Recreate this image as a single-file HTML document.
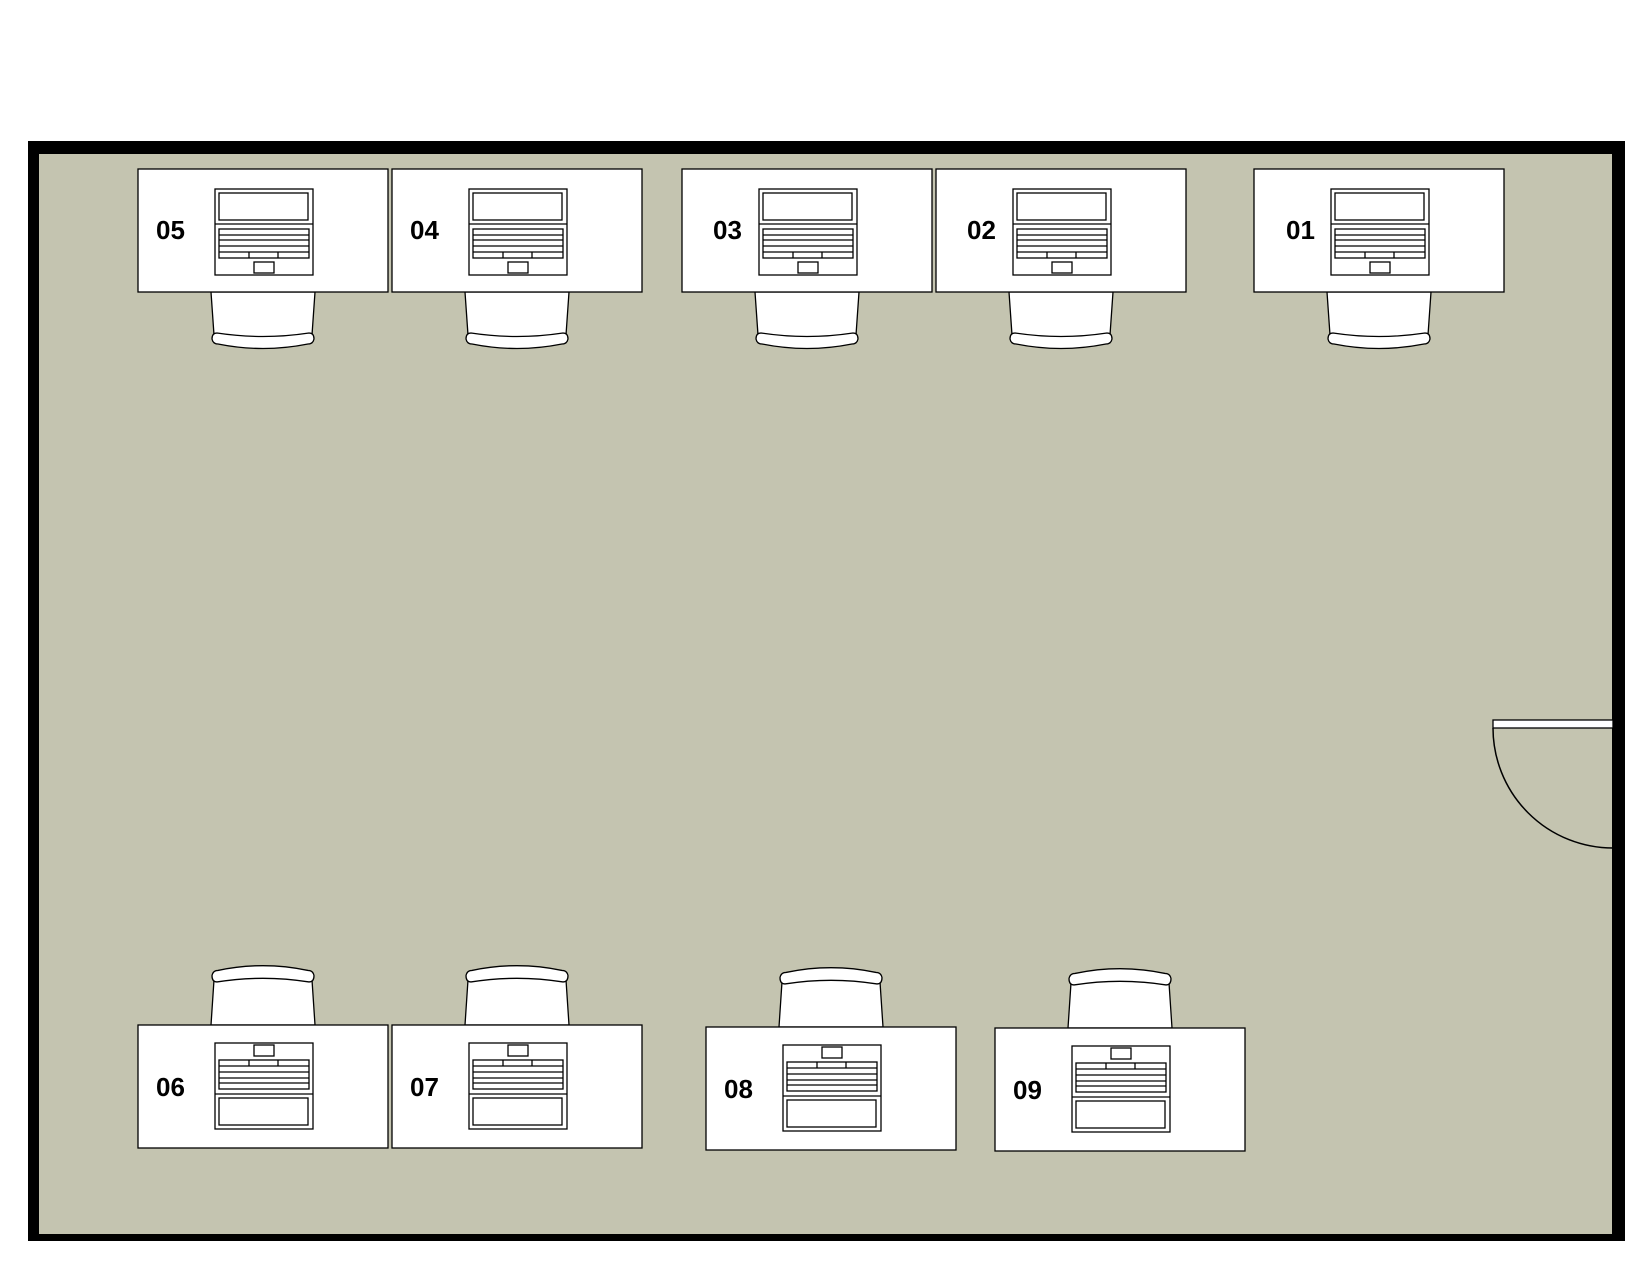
<!DOCTYPE html>
<html><head><meta charset="utf-8"><style>html,body{margin:0;padding:0;background:#fff}svg{display:block}</style></head>
<body>
<svg width="1650" height="1275" viewBox="0 0 1650 1275" xmlns="http://www.w3.org/2000/svg">
<defs>
<g id="chair" fill="#fff" stroke="#000" stroke-width="1.3">
<path d="M73 0 L76 43 Q125 49 174 43 L177 0 Z"/>
<path d="M79 41 Q125 48 171 41 Q176 41 176 47 Q175 52 170 52 Q125 61 80 52 Q75 52 74 47 Q74 41 79 41 Z"/>
</g>
<g id="laptop" fill="#fff" stroke="#000" stroke-width="1.3">
<rect x="0" y="0" width="98" height="86"/>
<rect x="4" y="4" width="89" height="27"/>
<line x1="0" y1="35" x2="98" y2="35"/>
<rect x="4" y="40" width="90" height="29"/>
<line x1="4" y1="46" x2="94" y2="46"/>
<line x1="4" y1="51" x2="94" y2="51"/>
<line x1="4" y1="57" x2="94" y2="57"/>
<line x1="4" y1="63" x2="94" y2="63"/>
<line x1="34" y1="63" x2="34" y2="69"/>
<line x1="63" y1="63" x2="63" y2="69"/>
<rect x="39" y="73" width="20" height="11"/>
</g>
<g id="deskTop">
<g transform="translate(0,123)"><use href="#chair"/></g>
<rect x="0" y="0" width="250" height="123" fill="#fff" stroke="#000" stroke-width="1.3"/>
<g transform="translate(77,20)"><use href="#laptop"/></g>
</g>
<g id="deskBot">
<g transform="scale(1,-1.05)"><use href="#chair"/></g>
<rect x="0" y="0" width="250" height="123" fill="#fff" stroke="#000" stroke-width="1.3"/>
<g transform="translate(77,104) scale(1,-1)"><use href="#laptop"/></g>
</g>
</defs>
<rect x="28" y="141" width="1597" height="1100" fill="#000"/>
<rect x="39" y="154" width="1573" height="1080" fill="#c4c4b0"/>
<g font-family="Liberation Sans, sans-serif" font-weight="bold" font-size="26" fill="#000">
<g transform="translate(138,169)"><use href="#deskTop"/><text x="18" y="70">05</text></g>
<g transform="translate(392,169)"><use href="#deskTop"/><text x="18" y="70">04</text></g>
<g transform="translate(682,169)"><use href="#deskTop"/><text x="31" y="70">03</text></g>
<g transform="translate(936,169)"><use href="#deskTop"/><text x="31" y="70">02</text></g>
<g transform="translate(1254,169)"><use href="#deskTop"/><text x="32" y="70">01</text></g>
<g transform="translate(138,1025)"><use href="#deskBot"/><text x="18" y="71">06</text></g>
<g transform="translate(392,1025)"><use href="#deskBot"/><text x="18" y="71">07</text></g>
<g transform="translate(706,1027)"><use href="#deskBot"/><text x="18" y="71">08</text></g>
<g transform="translate(995,1028)"><use href="#deskBot"/><text x="18" y="71">09</text></g>
</g>
<rect x="1493" y="720" width="120" height="8" fill="#fff" stroke="#000" stroke-width="1.3"/>
<path d="M1493 728 A120 120 0 0 0 1613 848" fill="none" stroke="#000" stroke-width="1.5"/>
</svg>
</body></html>
